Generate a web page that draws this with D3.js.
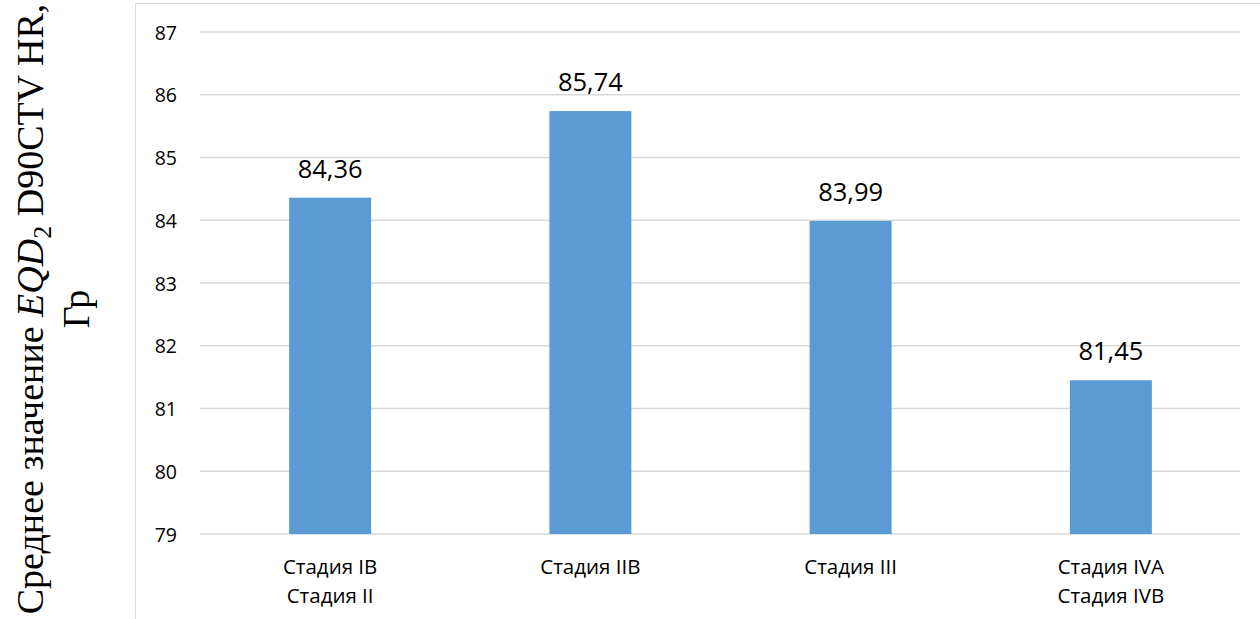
<!DOCTYPE html>
<html>
<head>
<meta charset="utf-8">
<script src="https://cdn.jsdelivr.net/npm/d3@7"></script>
<style>
  html, body { margin: 0; padding: 0; background: #fff; }
  svg { display: block; }
</style>
</head>
<body>
<svg id="chart" width="1260" height="619"></svg>
<script>
// Stage groups (two-line labels) and mean EQD2 D90 CTV HR values, Gy
const categories = [
  ["Стадия IB", "Стадия II"],
  ["Стадия IIB"],
  ["Стадия III"],
  ["Стадия IVA", "Стадия IVB"]
];
const values = [84.36, 85.74, 83.99, 81.45];
const valueLabels = ["84,36", "85,74", "83,99", "81,45"];
const yTicks = [79, 80, 81, 82, 83, 84, 85, 86, 87];

const svg = d3.select("#chart");
const sans = "'Open Sans', 'Noto Sans', sans-serif";

// chart frame
svg.append("rect")
  .attr("x", 135.5).attr("y", 3.5)
  .attr("width", 1300).attr("height", 700)
  .attr("fill", "none").attr("stroke", "#d9d9d9").attr("stroke-width", 1);

const keys = categories.map((c, i) => i);
const x = d3.scaleBand().domain(keys).range([200, 1241])
  .paddingInner(0.685).paddingOuter(0.3425);
const y = d3.scaleLinear().domain([79, 87]).range([534, 32]);

// gridlines
svg.append("g").selectAll("line").data(yTicks).join("line")
  .attr("x1", 200).attr("x2", 1240)
  .attr("y1", d => y(d)).attr("y2", d => y(d))
  .attr("stroke", "#d9d9d9").attr("stroke-width", 1.5);

// y axis tick labels
const yAxis = d3.axisLeft(y).tickValues(yTicks).tickSize(0).tickPadding(0)
  .tickFormat(d3.format("d"));
const gy = svg.append("g").attr("transform", "translate(177,0)").call(yAxis);
gy.select(".domain").remove();
gy.selectAll("text")
  .attr("font-family", sans).attr("font-size", 19.5).attr("fill", "#000")
  .attr("dy", "0.36em");

// bars
svg.append("g").selectAll("rect").data(values).join("rect")
  .attr("x", (d, i) => x(i))
  .attr("width", x.bandwidth())
  .attr("y", d => y(d))
  .attr("height", d => y(79) - y(d))
  .attr("fill", "#5b9bd5");

// value labels
svg.append("g").selectAll("text").data(values).join("text")
  .attr("x", (d, i) => x(i) + x.bandwidth() / 2)
  .attr("y", d => y(d) - 20)
  .attr("text-anchor", "middle")
  .attr("font-family", sans).attr("font-size", 25.5).attr("fill", "#000")
  .text((d, i) => valueLabels[i]);

// category labels
const cat = svg.append("g").selectAll("text").data(categories).join("text")
  .attr("text-anchor", "middle")
  .attr("font-family", sans).attr("font-size", 20.5).attr("fill", "#000");
cat.each(function(lines, i) {
  const t = d3.select(this);
  lines.forEach((ln, j) => {
    t.append("tspan")
      .attr("x", x(i) + x.bandwidth() / 2)
      .attr("y", 574 + j * 29)
      .text(ln);
  });
});

// y axis title
const serif = "'Liberation Serif', 'Times New Roman', serif";
const title = svg.append("g").attr("transform", "translate(0,309)");
const t1 = title.append("text")
  .attr("transform", "translate(43,0) rotate(-90)")
  .attr("text-anchor", "middle")
  .attr("font-family", serif).attr("font-size", 38).attr("fill", "#000");
t1.append("tspan").text("Среднее значение ");
t1.append("tspan").attr("font-style", "italic").text("EQD");
t1.append("tspan").attr("font-size", 26).attr("dy", 8).text("2");
t1.append("tspan").attr("dy", -8).text(" D90CTV HR,");
title.append("text")
  .attr("transform", "translate(89,0) rotate(-90)")
  .attr("text-anchor", "middle")
  .attr("font-family", serif).attr("font-size", 38).attr("fill", "#000")
  .text("Гр");
</script>
</body>
</html>
